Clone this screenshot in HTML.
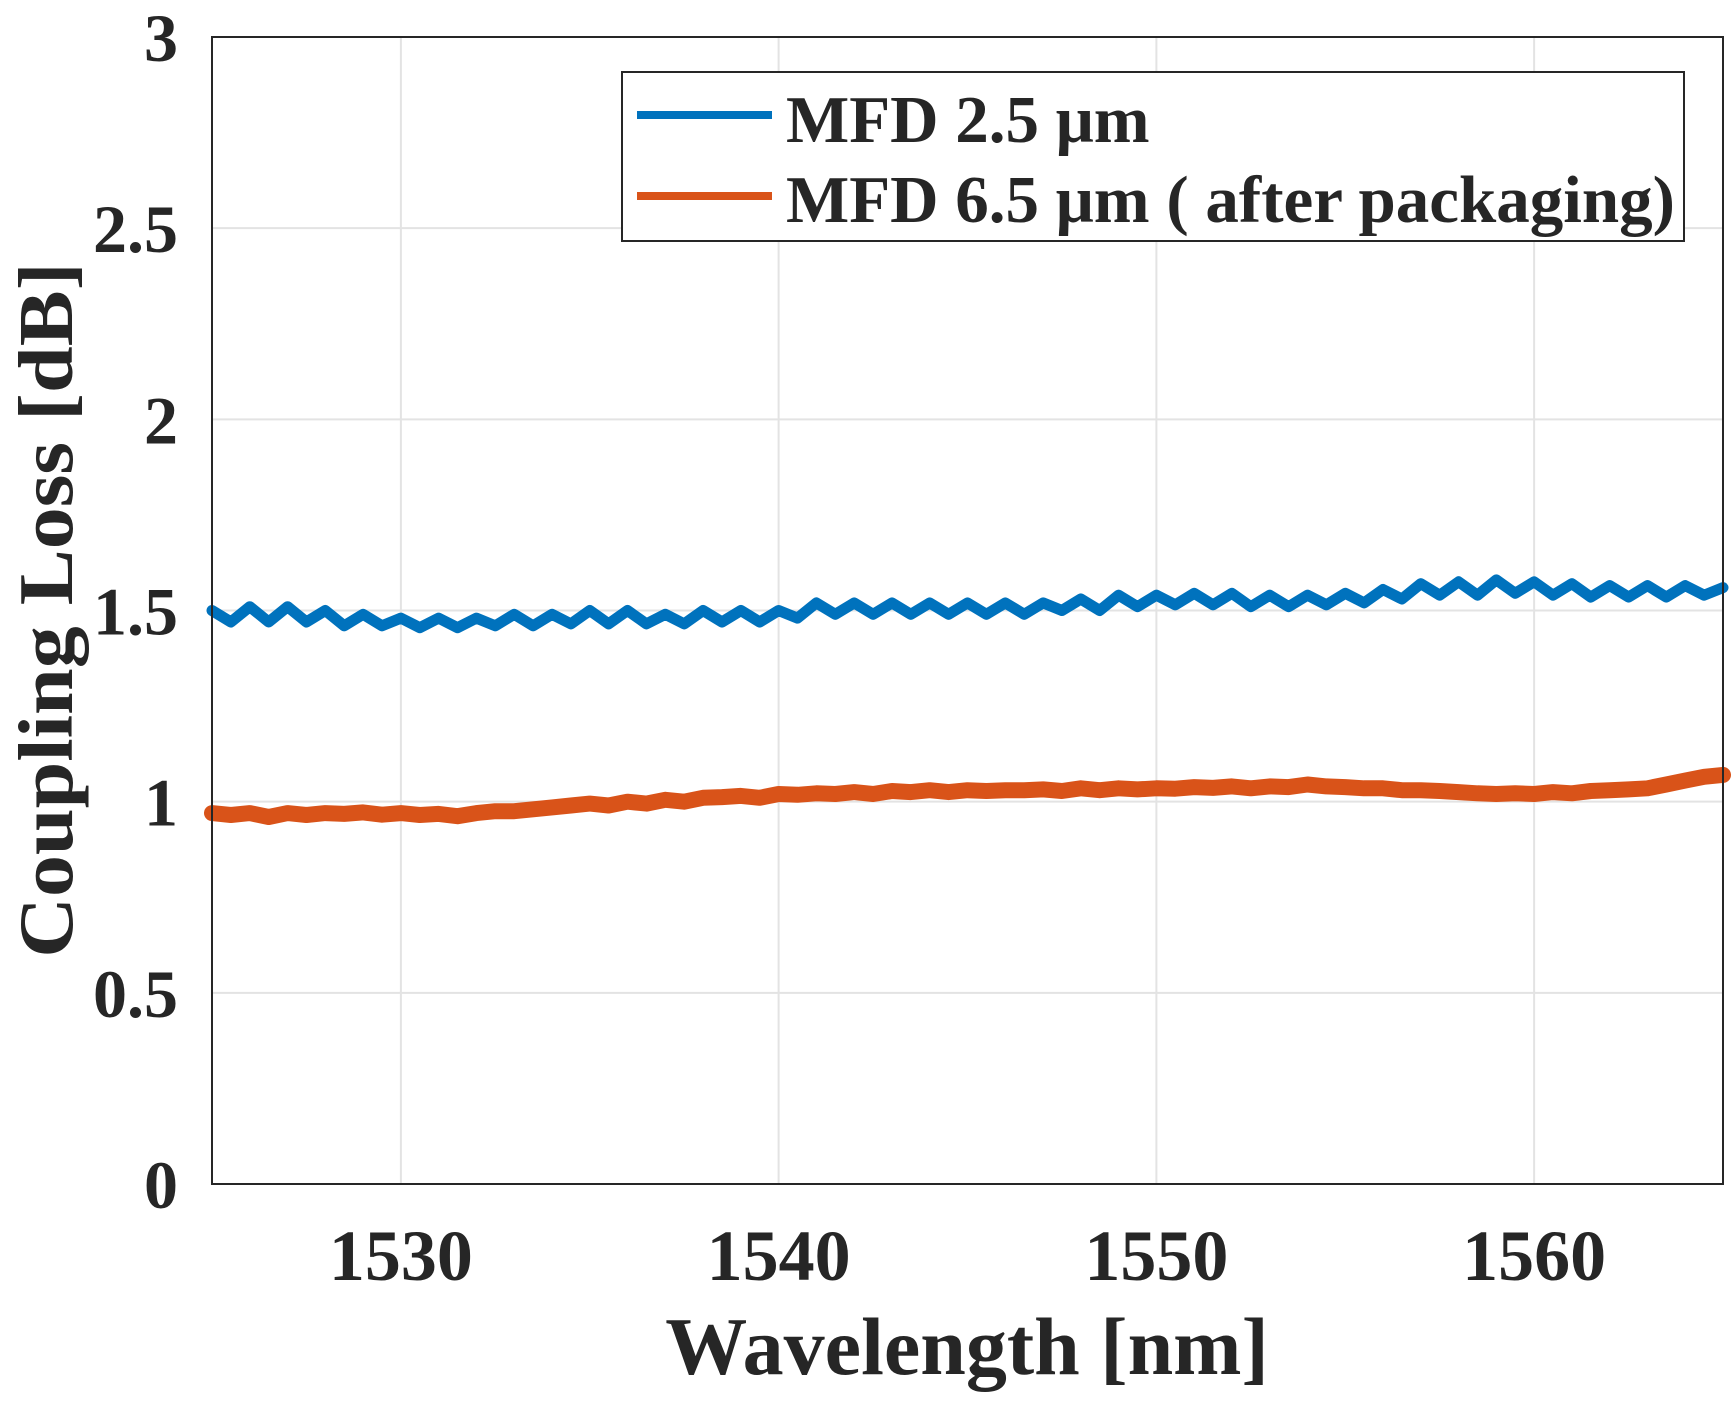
<!DOCTYPE html>
<html><head><meta charset="utf-8"><style>
html,body{margin:0;padding:0;background:#fff;}
svg{display:block;}
text{font-family:"Liberation Serif",serif;font-weight:bold;fill:#262626;}
</style></head><body>
<svg id="chart" width="1735" height="1402" viewBox="0 0 1735 1402">
<g id="grid"></g>
<g id="series"></g>
<rect x="212" y="37" width="1511" height="1147" fill="none" stroke="#262626" stroke-width="2"/>
<g id="ticks"></g>
<text x="0" y="0" transform="translate(72,610) rotate(-90) scale(1,0.92)" text-anchor="middle" font-size="84">Coupling Loss [dB]</text>
<text x="967" y="1374" text-anchor="middle" font-size="82">Wavelength [nm]</text>
<g>
<rect x="622" y="72" width="1062" height="169" fill="#fff" stroke="#262626" stroke-width="2"/>
<line x1="637" y1="115" x2="772" y2="115" stroke="#0072BD" stroke-width="8"/>
<text x="786" y="142" font-size="67">MFD 2.5 μm</text>
<line x1="637" y1="196" x2="772" y2="196" stroke="#D95319" stroke-width="8"/>
<text x="786" y="222" font-size="67">MFD 6.5 μm ( after packaging)</text>
</g>
</svg>
<script>
const xTicks = [1530, 1540, 1550, 1560];
const yTicks = [0, 0.5, 1, 1.5, 2, 2.5, 3];
const yTickLabels = ["0", "0.5", "1", "1.5", "2", "2.5", "3"];
const wavelengthStart = 1525, wavelengthStep = 0.5;
const blueValues = [1.50,1.47,1.51,1.47,1.51,1.47,1.50,1.46,1.49,1.46,1.48,1.455,1.48,1.455,1.48,1.46,1.49,1.46,1.49,1.465,1.50,1.465,1.50,1.465,1.49,1.465,1.50,1.47,1.50,1.47,1.50,1.48,1.52,1.49,1.52,1.49,1.52,1.49,1.52,1.49,1.52,1.49,1.52,1.49,1.52,1.50,1.53,1.50,1.54,1.51,1.54,1.515,1.545,1.515,1.545,1.51,1.54,1.51,1.54,1.515,1.545,1.52,1.555,1.53,1.57,1.54,1.575,1.54,1.58,1.545,1.575,1.54,1.57,1.535,1.565,1.535,1.565,1.535,1.565,1.54,1.56];
const orangeValues = [0.97,0.965,0.97,0.96,0.97,0.965,0.97,0.968,0.972,0.966,0.97,0.965,0.968,0.962,0.97,0.975,0.975,0.98,0.985,0.99,0.995,0.99,1.0,0.995,1.005,1.0,1.01,1.012,1.015,1.01,1.02,1.018,1.022,1.02,1.025,1.02,1.028,1.025,1.03,1.025,1.03,1.028,1.03,1.03,1.032,1.028,1.035,1.03,1.035,1.032,1.035,1.034,1.038,1.036,1.04,1.035,1.04,1.038,1.045,1.04,1.05,1.045,1.05,1.048,1.05,1.048,1.055,1.05,1.052,1.05,1.05,1.045,1.048,1.042,1.045,1.04,1.045,1.04,1.042,1.04,1.04];
const orangeTail = [1.038,1.035,1.035,1.03,1.03,1.028,1.025,1.022,1.02,1.022,1.02,1.025,1.022,1.028,1.03,1.032,1.035,1.045,1.055,1.065,1.07];
const NS="http://www.w3.org/2000/svg";
const L=212,R=1723,T=37,B=1184;
const xs=v=>L+(v-1525)/40*(R-L);
const ys=v=>B-v/3*(B-T);
const grid=document.getElementById('grid'),ticks=document.getElementById('ticks'),series=document.getElementById('series');
xTicks.forEach(t=>{
  const g=document.createElementNS(NS,'line');
  g.setAttribute('x1',xs(t));g.setAttribute('x2',xs(t));g.setAttribute('y1',T);g.setAttribute('y2',B);
  g.setAttribute('stroke','#e3e3e3');g.setAttribute('stroke-width','2');
  
  
  grid.appendChild(g);
  const tx=document.createElementNS(NS,'text');
  tx.setAttribute('x',xs(t));tx.setAttribute('y',1280);tx.setAttribute('text-anchor','middle');tx.setAttribute('font-size','72');
  tx.textContent=t;
  
  
  ticks.appendChild(tx);
});
yTicks.forEach((t,i)=>{
  const g=document.createElementNS(NS,'line');
  g.setAttribute('x1',L);g.setAttribute('x2',R);g.setAttribute('y1',ys(t));g.setAttribute('y2',ys(t));
  g.setAttribute('stroke','#e3e3e3');g.setAttribute('stroke-width','2');
  
  
  grid.appendChild(g);
  const tx=document.createElementNS(NS,'text');
  tx.setAttribute('x',178);tx.setAttribute('y',ys(t)+24);tx.setAttribute('text-anchor','end');tx.setAttribute('font-size','68');
  tx.textContent=yTickLabels[i];
  
  
  ticks.appendChild(tx);
});
function drawLine(vals,color,w,name){
  const d=vals.map((v,i)=>(i?'L':'M')+xs(wavelengthStart+i*wavelengthStep).toFixed(1)+','+ys(v).toFixed(1)).join('');
  const p=document.createElementNS(NS,'path');
  p.setAttribute('d',d);p.setAttribute('fill','none');p.setAttribute('stroke',color);p.setAttribute('stroke-width',w);
  p.setAttribute('stroke-linejoin','round');p.setAttribute('stroke-linecap','round');
  
  
  series.appendChild(p);
}
const orangeAll=orangeValues.slice(0,60).concat(orangeTail);
drawLine(orangeAll,'#D95319',16,'series-mfd-6-5');
drawLine(blueValues,'#0072BD',11,'series-mfd-2-5');
</script>
</body></html>
